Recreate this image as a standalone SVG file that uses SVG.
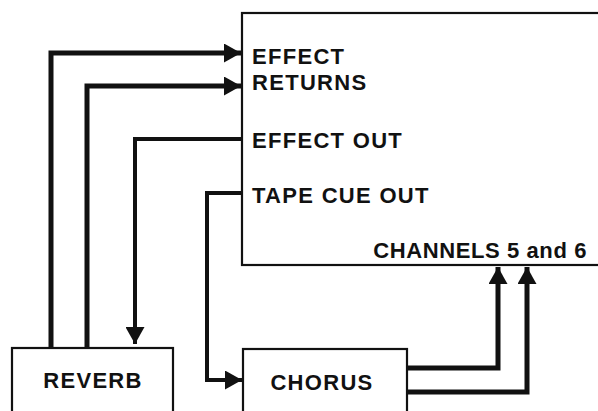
<svg xmlns="http://www.w3.org/2000/svg" width="598" height="411" viewBox="0 0 598 411">
<style>
.box{fill:#fff;stroke:#111;stroke-width:2.2}
.t{font-family:"Liberation Sans",Arial,sans-serif;font-weight:bold;font-size:22px;fill:#111;letter-spacing:1.3px}
.w{fill:none;stroke:#111;stroke-linejoin:miter;stroke-linecap:butt}
</style>
<defs>
<marker id="ah" markerUnits="userSpaceOnUse" viewBox="0 0 17 19" refX="17" refY="9.5" markerWidth="17" markerHeight="19" orient="auto">
<path d="M0,0 L17,9.5 L0,19 Z" fill="#111"/>
</marker>
</defs>
<rect width="598" height="411" fill="#fff"/>
<g id="mixer">
<rect class="box" x="242" y="13" width="360" height="252"/>
<text class="t" x="252" y="64">EFFECT</text>
<text class="t" x="252" y="90">RETURNS</text>
<text class="t" x="252" y="148">EFFECT OUT</text>
<text class="t" x="252" y="203">TAPE CUE OUT</text>
<text class="t" x="587" y="258" text-anchor="end" style="letter-spacing:0.6px">CHANNELS 5 and 6</text>
</g>
<g id="reverb">
<rect class="box" x="12" y="348" width="161" height="70"/>
<text class="t" x="93" y="388" text-anchor="middle">REVERB</text>
</g>
<g id="chorus">
<rect class="box" x="243" y="349" width="164" height="70"/>
<text class="t" x="322" y="390" text-anchor="middle">CHORUS</text>
</g>
<g id="connectors">
<path class="w" stroke-width="5" d="M51,348 V53 H241" marker-end="url(#ah)"/>
<path class="w" stroke-width="5" d="M87,348 V86 H241" marker-end="url(#ah)"/>
<path class="w" stroke-width="4" d="M242,139 H135 V344" marker-end="url(#ah)"/>
<path class="w" stroke-width="4" d="M242,193 H207 V380 H242" marker-end="url(#ah)"/>
<path class="w" stroke-width="5" d="M407,368 H498 V267" marker-end="url(#ah)"/>
<path class="w" stroke-width="5" d="M407,392 H527 V267" marker-end="url(#ah)"/>
</g>
</svg>
